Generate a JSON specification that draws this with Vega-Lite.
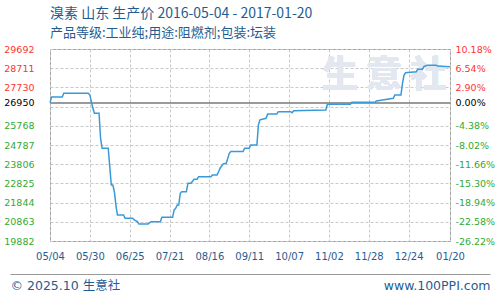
{
  "$schema": "https://vega.github.io/schema/vega-lite/v6.json",
  "autosize": "none",
  "width": 400,
  "height": 192,
  "padding": {"left": 50, "top": 49, "right": 50, "bottom": 59},
  "background": "white",
  "config": {"view": {"stroke": "#999999", "strokeWidth": 1}, "axis": {"labelOverlap": false, "labelFlush": false}},
  "title": {
    "text": "溴素 山东 生产价 2016-05-04 - 2017-01-20",
    "subtitle": "产品等级:工业纯;用途:阻燃剂;包装:坛装",
    "anchor": "start",
    "frame": "group",
    "font": "Noto Sans CJK SC",
    "fontSize": 14,
    "fontWeight": "normal",
    "color": "#1f5d91",
    "subtitleFont": "Noto Sans CJK SC",
    "subtitleFontSize": 13,
    "subtitleColor": "#1f5d91",
    "subtitlePadding": 6,
    "offset": 4
  },
  "data": {
    "values": [
      {"date": "2016/05/04", "price": 26950},
      {"date": "2016/05/05", "price": 27240},
      {"date": "2016/05/12", "price": 27240},
      {"date": "2016/05/13", "price": 27430},
      {"date": "2016/05/29", "price": 27430},
      {"date": "2016/05/30", "price": 27340},
      {"date": "2016/06/01", "price": 26660},
      {"date": "2016/06/02", "price": 26410},
      {"date": "2016/06/05", "price": 26410},
      {"date": "2016/06/06", "price": 25130},
      {"date": "2016/06/07", "price": 24620},
      {"date": "2016/06/11", "price": 24620},
      {"date": "2016/06/12", "price": 23680},
      {"date": "2016/06/13", "price": 22740},
      {"date": "2016/06/14", "price": 22740},
      {"date": "2016/06/15", "price": 22400},
      {"date": "2016/06/16", "price": 21720},
      {"date": "2016/06/17", "price": 21210},
      {"date": "2016/06/21", "price": 21210},
      {"date": "2016/06/22", "price": 21040},
      {"date": "2016/06/27", "price": 21040},
      {"date": "2016/06/28", "price": 20960},
      {"date": "2016/06/30", "price": 20870},
      {"date": "2016/07/01", "price": 20750},
      {"date": "2016/07/07", "price": 20750},
      {"date": "2016/07/08", "price": 20820},
      {"date": "2016/07/09", "price": 20870},
      {"date": "2016/07/15", "price": 20870},
      {"date": "2016/07/16", "price": 21090},
      {"date": "2016/07/23", "price": 21090},
      {"date": "2016/07/24", "price": 21470},
      {"date": "2016/07/25", "price": 21550},
      {"date": "2016/07/26", "price": 21720},
      {"date": "2016/07/27", "price": 21720},
      {"date": "2016/07/28", "price": 22320},
      {"date": "2016/07/29", "price": 22400},
      {"date": "2016/08/01", "price": 22400},
      {"date": "2016/08/02", "price": 22830},
      {"date": "2016/08/04", "price": 22830},
      {"date": "2016/08/06", "price": 23040},
      {"date": "2016/08/08", "price": 23040},
      {"date": "2016/08/09", "price": 23170},
      {"date": "2016/08/17", "price": 23170},
      {"date": "2016/08/18", "price": 23260},
      {"date": "2016/08/21", "price": 23260},
      {"date": "2016/08/22", "price": 23420},
      {"date": "2016/08/23", "price": 23600},
      {"date": "2016/08/25", "price": 23820},
      {"date": "2016/08/27", "price": 23850},
      {"date": "2016/08/29", "price": 24360},
      {"date": "2016/08/30", "price": 24450},
      {"date": "2016/09/07", "price": 24450},
      {"date": "2016/09/08", "price": 24620},
      {"date": "2016/09/11", "price": 24620},
      {"date": "2016/09/12", "price": 24790},
      {"date": "2016/09/16", "price": 24790},
      {"date": "2016/09/17", "price": 25810},
      {"date": "2016/09/18", "price": 26070},
      {"date": "2016/09/22", "price": 26150},
      {"date": "2016/09/23", "price": 26370},
      {"date": "2016/09/29", "price": 26370},
      {"date": "2016/09/30", "price": 26490},
      {"date": "2016/10/08", "price": 26490},
      {"date": "2016/10/09", "price": 26440},
      {"date": "2016/10/10", "price": 26540},
      {"date": "2016/10/31", "price": 26580},
      {"date": "2016/11/01", "price": 26870},
      {"date": "2016/11/16", "price": 26870},
      {"date": "2016/11/17", "price": 26970},
      {"date": "2016/12/02", "price": 26970},
      {"date": "2016/12/03", "price": 27040},
      {"date": "2016/12/07", "price": 27090},
      {"date": "2016/12/14", "price": 27170},
      {"date": "2016/12/15", "price": 27340},
      {"date": "2016/12/19", "price": 27340},
      {"date": "2016/12/20", "price": 27940},
      {"date": "2016/12/21", "price": 28360},
      {"date": "2016/12/22", "price": 28480},
      {"date": "2016/12/29", "price": 28530},
      {"date": "2016/12/30", "price": 28660},
      {"date": "2017/01/02", "price": 28660},
      {"date": "2017/01/03", "price": 28790},
      {"date": "2017/01/05", "price": 28860},
      {"date": "2017/01/11", "price": 28860},
      {"date": "2017/01/12", "price": 28820},
      {"date": "2017/01/20", "price": 28790}
    ]
  },
  "layer": [
    {
      "mark": {"type": "rule", "color": "#999999", "strokeWidth": 1.5, "clip": true},
      "encoding": {
        "x": {
          "datum": {"year": 2016, "month": 4, "date": 1},
          "type": "temporal",
          "scale": {"domain": [{"year": 2016, "month": 4, "date": 1}, {"year": 2017, "month": 2, "date": 1}], "range": [-40, 440]},
          "axis": {"orient": "bottom", "offset": 33, "labels": false, "ticks": false, "grid": false, "domain": true, "domainColor": "#999999", "domainWidth": 1, "title": null}
        },
        "x2": {"datum": {"year": 2017, "month": 2, "date": 1}},
        "y": {
          "datum": 26950,
          "type": "quantitative",
          "scale": {"domain": [19882, 29692], "nice": false, "zero": false},
          "axis": {
            "orient": "right",
            "values": [29692, 28711, 27730, 26950, 25768, 24787, 23806, 22825, 21844, 20863, 19882],
            "labelExpr": "datum.value == 29692 ? '10.18%' : datum.value == 28711 ? '6.54%' : datum.value == 27730 ? '2.90%' : datum.value == 26950 ? '0.00%' : datum.value == 25768 ? '-4.38%' : datum.value == 24787 ? '-8.02%' : datum.value == 23806 ? '-11.66%' : datum.value == 22825 ? '-15.30%' : datum.value == 21844 ? '-18.94%' : datum.value == 20863 ? '-22.58%' : '-26.22%'",
            "labelColor": {"condition": [{"test": "datum.value > 26950", "value": "#ff3333"}, {"test": "datum.value == 26950", "value": "#000000"}], "value": "#33aa33"},
            "labelFont": "DejaVu Sans",
            "labelFontSize": 9.5,
            "labelPadding": 5,
            "labelAlign": "left",
            "labelBaseline": "middle",
            "labelOverlap": false,
            "labelFlush": false,
            "domain": false,
            "ticks": false,
            "grid": false,
            "title": "www.100PPI.com",
            "titleAngle": 0,
            "titleAlign": "right",
            "titleBaseline": "middle",
            "titleX": 40,
            "titleY": 236,
            "titleFont": "DejaVu Sans",
            "titleFontSize": 12.5,
            "titleFontWeight": "normal",
            "titleColor": "#1f5d91"
          }
        }
      }
    },
    {
      "mark": {"type": "text", "font": "Noto Sans CJK SC", "fontSize": 36, "fontWeight": "bold", "color": "#e3e7ef", "align": "center", "baseline": "middle"},
      "encoding": {
        "x": {
          "datum": {"year": 2016, "month": 12, "date": 8},
          "type": "temporal",
          "scale": {"domain": [{"year": 2016, "month": 5, "date": 4}, {"year": 2017, "month": 1, "date": 20}]},
          "axis": null
        },
        "y": {"datum": 28313, "type": "quantitative", "axis": null},
        "text": {"value": "生 意 社"}
      }
    },
    {
      "mark": {"type": "line", "color": "#3a9ad9", "strokeWidth": 1.5, "interpolate": "linear"},
      "encoding": {
        "x": {
          "field": "date",
          "type": "temporal",
          "scale": {"domain": [{"year": 2016, "month": 5, "date": 4}, {"year": 2017, "month": 1, "date": 20}]},
          "axis": {
            "orient": "bottom",
            "values": [
              {"year": 2016, "month": 5, "date": 4},
              {"year": 2016, "month": 5, "date": 30},
              {"year": 2016, "month": 6, "date": 25},
              {"year": 2016, "month": 7, "date": 21},
              {"year": 2016, "month": 8, "date": 16},
              {"year": 2016, "month": 9, "date": 11},
              {"year": 2016, "month": 10, "date": 7},
              {"year": 2016, "month": 11, "date": 2},
              {"year": 2016, "month": 11, "date": 28},
              {"year": 2016, "month": 12, "date": 24},
              {"year": 2017, "month": 1, "date": 20}
            ],
            "format": "%m/%d",
            "labelFont": "DejaVu Sans",
            "labelFontSize": 10,
            "labelColor": "#1f5d91",
            "labelPadding": 10,
            "labelFlush": false,
            "labelOverlap": false,
            "domain": false,
            "ticks": false,
            "grid": true,
            "gridColor": "#c8c8c8",
            "gridDash": [3, 2],
            "title": null
          }
        },
        "y": {
          "field": "price",
          "type": "quantitative",
          "scale": {"domain": [19882, 29692], "nice": false, "zero": false},
          "axis": {
            "orient": "left",
            "values": [29692, 28711, 27730, 26950, 26749, 25768, 24787, 23806, 22825, 21844, 20863, 19882],
            "format": "d",
            "labelExpr": "datum.value == 26749 ? '' : datum.label",
            "labelColor": {"condition": [{"test": "datum.value > 26950", "value": "#ff3333"}, {"test": "datum.value == 26950", "value": "#000000"}], "value": "#33aa33"},
            "labelFont": "DejaVu Sans",
            "labelFontSize": 9.5,
            "labelPadding": 16,
            "labelBaseline": "middle",
            "labelOverlap": false,
            "labelFlush": false,
            "domain": false,
            "ticks": false,
            "grid": true,
            "gridColor": {"condition": {"test": "datum.value == 26950", "value": "rgba(0,0,0,0)"}, "value": "#c8c8c8"},
            "gridDash": [3, 2],
            "title": "© 2025.10 生意社",
            "titleAngle": 0,
            "titleAlign": "left",
            "titleBaseline": "middle",
            "titleX": -40,
            "titleY": 236,
            "titleFont": "DejaVu Sans, Noto Sans CJK SC",
            "titleFontSize": 12.5,
            "titleFontWeight": "normal",
            "titleColor": "#1f5d91"
          }
        }
      }
    }
  ],
  "resolve": {"scale": {"x": "independent"}, "axis": {"x": "independent", "y": "independent"}}
}
